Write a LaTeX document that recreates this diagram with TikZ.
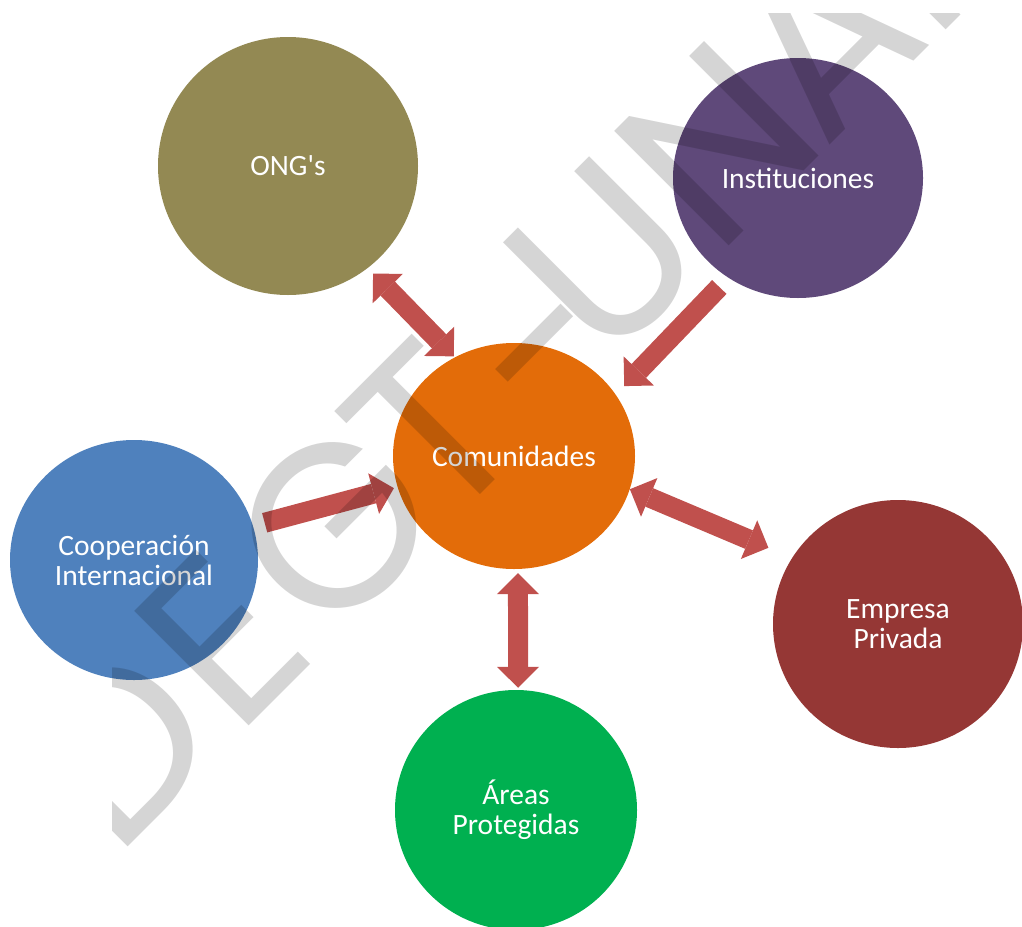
\documentclass[tikz,border=0pt]{standalone}
\usepackage{fontspec}
\setmainfont{Carlito}
\newfontfamily\wmfont{Poppins}
\usetikzlibrary{shapes.geometric,arrows.meta}

\definecolor{ongcol}{HTML}{938953}
\definecolor{instcol}{HTML}{5F497A}
\definecolor{comcol}{HTML}{E36C09}
\definecolor{coopcol}{HTML}{4F81BD}
\definecolor{empcol}{HTML}{953735}
\definecolor{areacol}{HTML}{00B050}
\definecolor{linkcol}{HTML}{C0504D}

\begin{document}
\begin{tikzpicture}[x=1pt,y=-1pt,
  actor/.style={ellipse, inner sep=0pt, text=white, align=center,
    font=\fontsize{29.5}{30}\selectfont},
  link/.style={line width=20pt, draw=linkcol},
  oneway/.style={link, -{Triangle[width=42pt,length=21pt,line width=0pt]}},
  twoway/.style={link, {Triangle[width=42pt,length=21pt,line width=0pt]}-{Triangle[width=42pt,length=21pt,line width=0pt]}},
  wm/.style={rotate=45, anchor=base, inner sep=0pt, text=black, text opacity=0.165,
    font=\wmfont\fontsize{232}{232}\selectfont}
]
\useasboundingbox (0,0) rectangle (1022,926);

% actors
\node[actor, fill=ongcol,  minimum width=260pt, minimum height=258pt] (ong)   at (288,166) {ONG\textquotesingle s};
\node[actor, fill=instcol, minimum width=250pt, minimum height=240pt] (inst)  at (798,178) {Instituciones};
\node[actor, fill=comcol,  minimum width=242pt, minimum height=226pt] (com)   at (514,456) {Comunidades};
\node[actor, fill=coopcol, minimum width=248pt, minimum height=240pt] (coop)  at (134,560) {Cooperación\\Internacional};
\node[actor, fill=empcol,  minimum width=250pt, minimum height=248pt] (emp)   at (898,624) {Empresa\\Privada};
\node[actor, fill=areacol, minimum width=242pt, minimum height=240pt] (areas) at (516,810) {Áreas\\Protegidas};

% relations
\draw[twoway, shorten <=7.6pt, shorten >=1.3pt] (ong.-52.4) -- (com.121.6);
\draw[oneway, shorten <=12.8pt, shorten >=12pt] (inst.-125) -- (com.31.9);
\draw[oneway, shorten <=12pt, shorten >=3.7pt] (coop.16) -- (com.-165.1);
\draw[twoway, shorten <=0pt, shorten >=25.7pt] (com.-16) -- (emp.148.3);
\draw[twoway, shorten <=4pt, shorten >=2pt] (com.-88) -- (areas.89);

% diagonal watermark
\begin{scope}
  \clip (112,13) rectangle (1022,926);
  \node[wm] (wmD) at (173.6,801.5) {D};
  \node[wm] (wmE) at (278.9,696.1) {E};
  \node[wm] (wmG) at (391.3,583.7) {G};
  \node[wm] (wmT) at (487.5,487.5) {T};
  \node[wm] (wmH1) at (598,400) {-};
  \node[wm] (wmU) at (660.7,314.3) {U};
  \node[wm] (wmN) at (773.9,201.1) {N};
  \node[wm] (wmA) at (880,95) {A};
  \node[wm] (wmH) at (990,-14.5) {H};
\end{scope}
\end{tikzpicture}
\end{document}
